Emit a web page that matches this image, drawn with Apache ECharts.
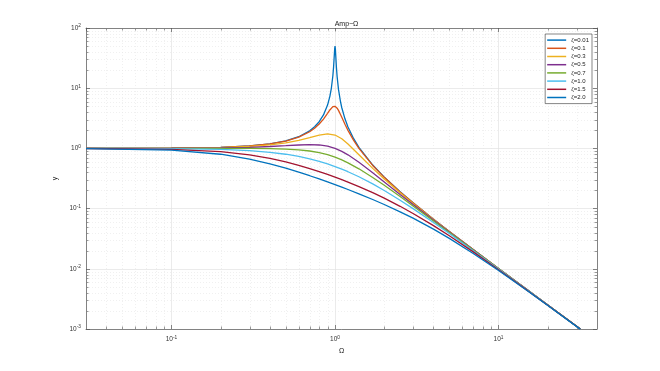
<!DOCTYPE html>
<html>
<head>
<meta charset="utf-8">
<title>Amp-Ω</title>
<script src="https://cdn.jsdelivr.net/npm/echarts@6/dist/echarts.min.js"></script>
<style>
    html, body { margin: 0; padding: 0; background: #fff; }
    #chart { width: 660px; height: 371px; }
</style>
</head>
<body>
<div id="chart"></div>
<script>
    // Ω sample points (fine grid around the resonance for the small damping curves)
    const omegaFine = [0.03, 0.1, 0.2, 0.3, 0.4, 0.5, 0.6, 0.7, 0.75, 0.8, 0.85, 0.9, 0.93, 0.95, 0.97, 0.98, 0.99, 0.995,
        1.0, 1.005, 1.01, 1.02, 1.03, 1.05, 1.08, 1.1, 1.15, 1.2, 1.3, 1.4, 1.7, 2, 2.5, 3, 4, 5, 7, 10, 15, 20, 31.6];
    const omegaCoarse = [0.03, 0.1, 0.2, 0.3, 0.4, 0.5, 0.6, 0.7, 0.8, 0.9, 1.0, 1.1, 1.2, 1.4, 1.7, 2, 2.5, 3, 4, 5, 7, 10, 15, 20, 31.6];

    // amplitude
    const amp001 = [1.0009, 1.0101, 1.0417, 1.0989, 1.1905, 1.3333, 1.5625, 1.9601, 2.2857, 2.775, 3.5967, 5.2397, 7.3325, 10.067, 16.077, 22.633, 35.62, 44.92,
        50.0, 44.52, 35.09, 22.10, 15.555, 9.558, 5.96, 4.7359, 3.1008, 2.2727, 1.4493, 1.0417, 0.5291, 0.3333, 0.1905, 0.125, 0.06667, 0.04167, 0.02083, 0.010101, 0.004464, 0.002506, 0.001002];
    const amp01 = [1.0009, 1.0099, 1.0408, 1.0965, 1.1851, 1.3216, 1.5357, 1.8908, 2.1621, 2.5384, 3.0728, 3.8208, 4.35, 4.6826, 4.9309, 5.001, 5.0251, 5.0188,
        5.0, 4.969, 4.9262, 4.8086, 4.6552, 4.2794, 3.6676, 3.288, 2.5245, 1.9952, 1.3562, 1.0, 0.5207, 0.3304, 0.1896, 0.1247, 0.06657, 0.04163, 0.02082, 0.0101, 0.004464, 0.002506, 0.001002];
    const amp03 = [1.0007, 1.0082, 1.0336, 1.078, 1.1447, 1.238, 1.3618, 1.5136, 1.6667, 1.7469, 1.6667, 1.4438, 1.1851, 0.7839, 0.4656, 0.3095, 0.1831, 0.122, 0.06583, 0.04134, 0.02075, 0.01008, 0.004461, 0.002505, 0.001002];
    const amp05 = [1.0005, 1.005, 1.0198, 1.0436, 1.0748, 1.1094, 1.1399, 1.1546, 1.1399, 1.0871, 1.0, 0.893, 0.7824, 0.5891, 0.3934, 0.2774, 0.172, 0.117, 0.06442, 0.04079, 0.02062, 0.01005, 0.004454, 0.002503, 0.001002];
    const amp07 = [1.0, 1.0002, 1.0, 0.9978, 0.9905, 0.9747, 0.9469, 0.9052, 0.85, 0.7848, 0.7143, 0.6434, 0.5758, 0.4582, 0.329, 0.2437, 0.1585, 0.1107, 0.06246, 0.04, 0.02041, 0.01, 0.004445, 0.0025, 0.001];
    const amp10 = [0.9991, 0.9901, 0.9615, 0.9174, 0.8621, 0.8, 0.7353, 0.6711, 0.6098, 0.5525, 0.5, 0.4525, 0.4098, 0.3378, 0.2571, 0.2, 0.1379, 0.1, 0.0588, 0.0385, 0.02, 0.0099, 0.004425, 0.002494, 0.000992];
    const amp15 = [0.9969, 0.9667, 0.8833, 0.7813, 0.6827, 0.5963, 0.5235, 0.4627, 0.4121, 0.3695, 0.3333, 0.3024, 0.2757, 0.2321, 0.1839, 0.1491, 0.1092, 0.083, 0.0521, 0.0353, 0.01909, 0.00967, 0.004377, 0.002478, 0.000998];
    const amp20 = [0.9938, 0.9365, 0.8002, 0.664, 0.5534, 0.4682, 0.4026, 0.3514, 0.3105, 0.2774, 0.25, 0.227, 0.2075, 0.176, 0.1417, 0.117, 0.0885, 0.0693, 0.0456, 0.032, 0.018, 0.00937, 0.004312, 0.002457, 0.000995];

    const zetaNames = ['ζ=0.01', 'ζ=0.1', 'ζ=0.3', 'ζ=0.5', 'ζ=0.7', 'ζ=1.0', 'ζ=1.5', 'ζ=2.0'];
    const colors = ['#0072BD', '#D95319', '#EDB120', '#7E2F8E', '#77AC30', '#4DBEEE', '#A2142F', '#0072BD'];

    const curves = [
        [omegaFine, amp001], [omegaFine, amp01], [omegaCoarse, amp03], [omegaCoarse, amp05],
        [omegaCoarse, amp07], [omegaCoarse, amp10], [omegaCoarse, amp15], [omegaCoarse, amp20]
    ];

    const FONT = 'Liberation Sans, Arial, sans-serif';

    // 10^n labels, nothing for the axis ends
    function powLabel(v) {
        const e = Math.log10(v);
        if (Math.abs(e - Math.round(e)) > 1e-6) return '';
        return '10{s|' + Math.round(e) + '}';
    }
    const labelRich = {
        s: {fontSize: 4.8, fontFamily: FONT, color: '#333', verticalAlign: 'top', lineHeight: 9}
    };

    // minor tick positions 2..9 x 10^n (MATLAB style)
    const xMinor = [], yMinor = [];
    for (let d = -2; d <= 1; d++) {
        for (let m = 2; m <= 9; m++) {
            const v = m * Math.pow(10, d);
            if (v > 0.03 && v < 40) xMinor.push([v, 1]);
        }
    }
    for (let d = -3; d <= 1; d++) {
        for (let m = 2; m <= 9; m++) yMinor.push([1, m * Math.pow(10, d)]);
    }

    function minorRender(isX) {
        return function (params, api) {
            const cs = params.coordSys;
            const p = api.coord([api.value(0), api.value(1)]);
            const lines = [];
            const gridStyle = {stroke: '#e6e6e6', lineWidth: 0.6, lineDash: [1, 2]};
            const tickStyle = {stroke: '#555', lineWidth: 0.6};
            if (isX) {
                const x = Math.round(p[0]) + 0.5;
                lines.push({type: 'line', shape: {x1: x, y1: cs.y, x2: x, y2: cs.y + cs.height}, style: gridStyle});
                lines.push({type: 'line', shape: {x1: x, y1: cs.y + cs.height, x2: x, y2: cs.y + cs.height - 2.5}, style: tickStyle});
                lines.push({type: 'line', shape: {x1: x, y1: cs.y, x2: x, y2: cs.y + 2.5}, style: tickStyle});
            } else {
                const y = Math.round(p[1]) + 0.5;
                lines.push({type: 'line', shape: {x1: cs.x, y1: y, x2: cs.x + cs.width, y2: y}, style: gridStyle});
                lines.push({type: 'line', shape: {x1: cs.x, y1: y, x2: cs.x + 2.5, y2: y}, style: tickStyle});
                lines.push({type: 'line', shape: {x1: cs.x + cs.width, y1: y, x2: cs.x + cs.width - 2.5, y2: y}, style: tickStyle});
            }
            return {type: 'group', children: lines};
        };
    }

    const axisLineStyle = {lineStyle: {color: '#555', width: 0.7}};
    const tickCfg = {inside: true, length: 4, lineStyle: {color: '#555', width: 0.7}};

    const chart = echarts.init(document.getElementById('chart'), null, {renderer: 'canvas'});

    const lineSeries = curves.map(function (c, i) {
        return {
            name: zetaNames[i],
            type: 'line',
            data: c[0].map(function (w, k) { return [w, c[1][k]]; }),
            showSymbol: false,
            smooth: false,
            clip: true,
            z: 3,
            lineStyle: {color: colors[i], width: 1.3},
            itemStyle: {color: colors[i]}
        };
    });

    chart.setOption({
        animation: false,
        backgroundColor: '#fff',
        title: {
            text: 'Amp−Ω',
            left: 341.5,
            textAlign: 'center',
            top: 16,
            textStyle: {fontSize: 7, fontWeight: 'normal', color: '#222', fontFamily: FONT}
        },
        grid: {left: 86, right: 63, top: 28, bottom: 42},
        legend: {
            data: zetaNames,
            orient: 'vertical',
            right: 68,
            top: 34,
            icon: 'rect',
            itemWidth: 19,
            itemHeight: 1.5,
            itemGap: 0,
            padding: [2, 3, 2, 2],
            borderColor: '#333',
            borderWidth: 0.6,
            backgroundColor: '#fff',
            textStyle: {fontSize: 6, lineHeight: 8.2, color: '#222', fontFamily: FONT}
        },
        xAxis: [{
            type: 'log',
            logBase: 10,
            min: 0.03,
            max: 40,
            name: 'Ω',
            nameLocation: 'middle',
            nameGap: 19,
            nameTextStyle: {fontSize: 7, color: '#222', fontFamily: FONT},
            axisLine: axisLineStyle,
            axisTick: tickCfg,
            axisLabel: {formatter: powLabel, rich: labelRich, fontSize: 6.5, color: '#333', fontFamily: FONT, margin: 6, showMinLabel: false, showMaxLabel: false},
            splitLine: {show: true, lineStyle: {color: '#e2e2e2', width: 0.7}}
        }, {
            type: 'log',
            logBase: 10,
            min: 0.03,
            max: 40,
            position: 'top',
            axisLine: axisLineStyle,
            axisTick: tickCfg,
            axisLabel: {show: false},
            splitLine: {show: false}
        }],
        yAxis: [{
            type: 'log',
            logBase: 10,
            min: 0.001,
            max: 100,
            name: 'y',
            nameLocation: 'middle',
            nameGap: 20,
            nameRotate: 90,
            nameTextStyle: {fontSize: 7, color: '#222', fontFamily: FONT},
            axisLine: axisLineStyle,
            axisTick: tickCfg,
            axisLabel: {formatter: powLabel, rich: labelRich, fontSize: 6.5, color: '#333', fontFamily: FONT, margin: 5},
            splitLine: {show: true, lineStyle: {color: '#e2e2e2', width: 0.7}}
        }, {
            type: 'log',
            logBase: 10,
            min: 0.001,
            max: 100,
            position: 'right',
            axisLine: axisLineStyle,
            axisTick: tickCfg,
            axisLabel: {show: false},
            splitLine: {show: false}
        }],
        series: [{
            name: 'xminor',
            type: 'custom',
            silent: true,
            z: 1,
            renderItem: minorRender(true),
            data: xMinor
        }, {
            name: 'yminor',
            type: 'custom',
            silent: true,
            z: 1,
            renderItem: minorRender(false),
            data: yMinor
        }].concat(lineSeries)
    });
</script>
</body>
</html>
